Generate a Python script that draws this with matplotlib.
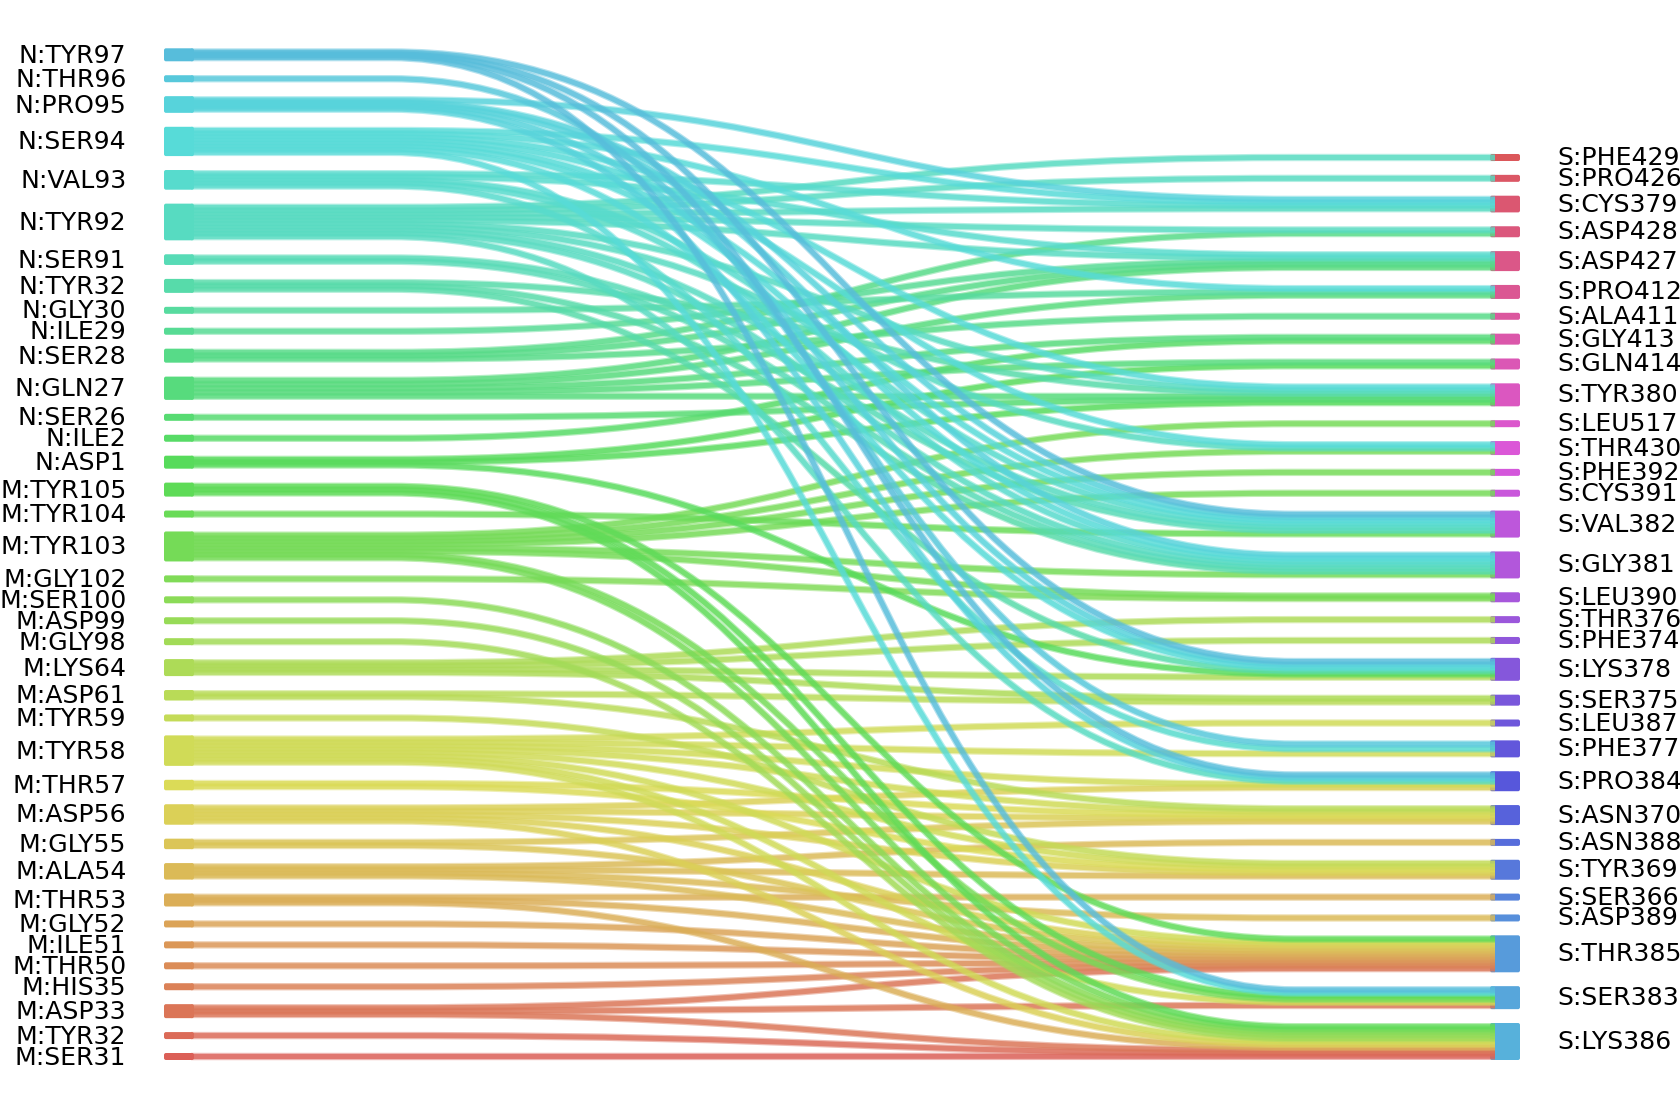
import colorsys
import matplotlib
matplotlib.use("Agg")
import matplotlib.pyplot as plt
from matplotlib.patches import FancyBboxPatch, PathPatch
from matplotlib.path import Path

left_labels = ["N:TYR97", "N:THR96", "N:PRO95", "N:SER94", "N:VAL93", "N:TYR92", "N:SER91", "N:TYR32",
               "N:GLY30", "N:ILE29", "N:SER28", "N:GLN27", "N:SER26", "N:ILE2", "N:ASP1", "M:TYR105",
               "M:TYR104", "M:TYR103", "M:GLY102", "M:SER100", "M:ASP99", "M:GLY98", "M:LYS64", "M:ASP61",
               "M:TYR59", "M:TYR58", "M:THR57", "M:ASP56", "M:GLY55", "M:ALA54", "M:THR53", "M:GLY52",
               "M:ILE51", "M:THR50", "M:HIS35", "M:ASP33", "M:TYR32", "M:SER31"]
left_sizes = [13, 7, 16.7, 29.3, 19.7, 36.7, 10.7, 14, 7, 7, 14, 23.3, 7, 7, 13, 14, 7, 30, 7, 7, 7, 7, 17, 10.5,
              7, 30.5, 10.5, 20.5, 10.5, 16.5, 13, 7, 7, 7, 7, 14, 7, 7]

right_labels = ["S:PHE429", "S:PRO426", "S:CYS379", "S:ASP428", "S:ASP427", "S:PRO412", "S:ALA411", "S:GLY413",
                "S:GLN414", "S:TYR380", "S:LEU517", "S:THR430", "S:PHE392", "S:CYS391", "S:VAL382", "S:GLY381",
                "S:LEU390", "S:THR376", "S:PHE374", "S:LYS378", "S:SER375", "S:LEU387", "S:PHE377", "S:PRO384",
                "S:ASN370", "S:ASN388", "S:TYR369", "S:SER366", "S:ASP389", "S:THR385", "S:SER383", "S:LYS386"]
right_sizes = [7, 7, 16.7, 11, 20, 14, 7, 11, 11, 23, 7, 14, 7, 7, 27, 27, 10, 7, 7, 23, 11, 7, 17, 20, 20, 7,
               20, 7, 7, 37, 23, 37]

contacts = {
    "S:PHE429": ["N:TYR92"],
    "S:PRO426": ["N:TYR92"],
    "S:CYS379": ["N:PRO95", "N:SER94", "N:VAL93", "N:TYR92"],
    "S:ASP428": ["N:TYR92", "N:SER28"],
    "S:ASP427": ["N:VAL93", "N:TYR92", "N:ILE29", "N:SER28", "N:GLN27"],
    "S:PRO412": ["N:SER94", "N:GLY30", "N:GLN27"],
    "S:ALA411": ["N:SER28"],
    "S:GLY413": ["N:GLN27", "N:ILE2"],
    "S:GLN414": ["N:GLN27", "N:ASP1"],
    "S:TYR380": ["N:SER94", "N:TYR92", "N:TYR32", "N:GLN27", "N:SER26", "N:ASP1"],
    "S:LEU517": ["M:TYR103"],
    "S:THR430": ["N:SER94", "N:TYR92", "M:TYR103"],
    "S:PHE392": ["M:TYR103"],
    "S:CYS391": ["M:TYR103"],
    "S:VAL382": ["N:TYR97", "N:PRO95", "N:SER94", "N:VAL93", "N:TYR92", "N:SER91", "M:TYR104"],
    "S:GLY381": ["N:PRO95", "N:SER94", "N:VAL93", "N:TYR92", "N:SER91", "N:TYR32", "M:TYR103"],
    "S:LEU390": ["M:TYR103", "M:GLY102"],
    "S:THR376": ["M:LYS64"],
    "S:PHE374": ["M:LYS64"],
    "S:LYS378": ["N:TYR97", "N:PRO95", "N:SER94", "N:TYR32", "N:ASP1", "M:LYS64"],
    "S:SER375": ["M:LYS64", "M:ASP61"],
    "S:LEU387": ["M:TYR58"],
    "S:PHE377": ["N:THR96", "N:VAL93", "M:TYR58"],
    "S:PRO384": ["N:TYR97", "N:PRO95", "N:TYR92", "M:TYR58", "M:ASP56"],
    "S:ASN370": ["M:ASP61", "M:TYR58", "M:THR57", "M:ASP56", "M:GLY55"],
    "S:ASN388": ["M:ALA54"],
    "S:TYR369": ["M:TYR59", "M:TYR58", "M:THR57", "M:ASP56", "M:ALA54"],
    "S:SER366": ["M:THR53"],
    "S:ASP389": ["M:ALA54"],
    "S:THR385": ["M:TYR105", "M:TYR58", "M:ASP56", "M:GLY55", "M:ALA54", "M:THR53", "M:GLY52", "M:ILE51",
                 "M:THR50", "M:HIS35", "M:ASP33"],
    "S:SER383": ["N:TYR97", "N:SER94", "M:TYR105", "M:TYR103", "M:TYR58", "M:ASP33"],
    "S:LYS386": ["M:TYR105", "M:TYR103", "M:SER100", "M:ASP99", "M:GLY98", "M:TYR58", "M:ASP56", "M:THR53",
                 "M:ASP33", "M:TYR32", "M:SER31"],
}

W, H = 1681, 1108
fig = plt.figure(figsize=(W / 100, H / 100), dpi=100)
ax = fig.add_axes([0, 0, 1, 1])
ax.set_xlim(0, W)
ax.set_ylim(H, 0)
ax.axis("off")
plt.rcParams["font.family"] = "DejaVu Sans"

N_TOTAL = len(left_labels) + len(right_labels)


def hue_colour(i):
    return colorsys.hls_to_rgb((i / N_TOTAL + 0.01) % 1, 0.6, 0.65)


def stack(sizes, top, bottom):
    gap = (bottom - top - sum(sizes)) / (len(sizes) - 1)
    tops, y = [], top
    for s in sizes:
        tops.append(y)
        y += s + gap
    return tops


left_tops = stack(left_sizes, 48.3, 1060)
right_tops = stack(right_sizes, 154, 1060)
left_index = {n: i for i, n in enumerate(left_labels)}
right_index = {n: i for i, n in enumerate(right_labels)}
left_colour = {n: hue_colour(len(left_labels) - 1 - i) for i, n in enumerate(left_labels)}
right_colour = {n: hue_colour(N_TOTAL - 1 - i) for i, n in enumerate(right_labels)}

links = [(s, t) for t in right_labels for s in contacts[t]]
STROKE = 7.4


def slots(members, top, size):
    n = len(members)
    if n == 1:
        return {members[0]: top + size / 2}
    step = (size - STROKE) / (n - 1)
    return {m: top + STROKE / 2 + k * step for k, m in enumerate(members)}


left_slot, right_slot = {}, {}
for name in left_labels:
    out = sorted([t for s, t in links if s == name], key=lambda t: right_index[t])
    left_slot[name] = slots(out, left_tops[left_index[name]], left_sizes[left_index[name]])
for name in right_labels:
    inc = sorted(contacts[name], key=lambda s: left_index[s])
    right_slot[name] = slots(inc, right_tops[right_index[name]], right_sizes[right_index[name]])

X0, X1 = 191, 1495
FLAT = 200
px = 72 / fig.dpi

for s, t in sorted(links, key=lambda l: -left_index[l[0]]):
    y0, y1 = left_slot[s][t], right_slot[t][s]
    xa, xb = X0 + FLAT, X1 - FLAT
    xm = (xa + xb) / 2
    verts = [(X0, y0), (xa, y0), (xm, y0), (xm, y1), (xb, y1), (X1, y1)]
    codes = [Path.MOVETO, Path.LINETO, Path.CURVE4, Path.CURVE4, Path.CURVE4, Path.LINETO]
    path = Path(verts, codes)
    c = left_colour[s]
    ax.add_patch(PathPatch(path, fill=False, edgecolor=c, lw=STROKE * px, alpha=0.45,
                           capstyle="butt", joinstyle="round", zorder=2))
    ax.add_patch(PathPatch(path, fill=False, edgecolor=c, lw=5.0 * px, alpha=0.72,
                           capstyle="butt", joinstyle="round", zorder=2))


def node(x, top, size, colour):
    ax.add_patch(FancyBboxPatch((x + 1.5, top + 1.5), 27, max(size - 3, 0.5),
                                boxstyle="round,pad=1.5,rounding_size=2", fc=colour, ec="none", zorder=1))


for name, top, size in zip(left_labels, left_tops, left_sizes):
    node(164, top, size, left_colour[name])
    ax.text(126.5, top + size / 2 + 1, name, ha="right", va="center", fontsize=18.1, color="black", zorder=4)
for name, top, size in zip(right_labels, right_tops, right_sizes):
    node(1490, top, size, right_colour[name])
    ax.text(1557, top + size / 2 + 0.5, name, ha="left", va="center", fontsize=18.1, color="black", zorder=4)

fig.savefig("out.png", dpi=100, facecolor="white")
